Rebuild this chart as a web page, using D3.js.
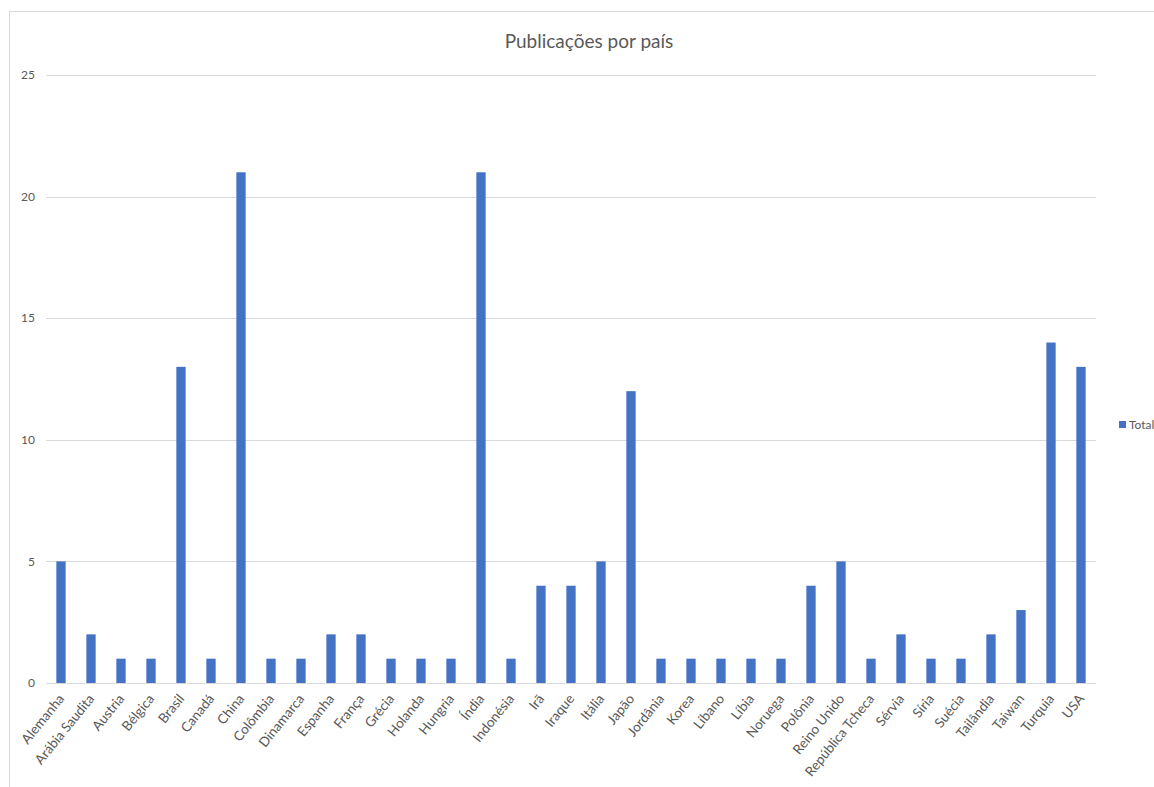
<!DOCTYPE html>
<html><head><meta charset="utf-8">
<script src="https://cdn.jsdelivr.net/npm/d3@7"></script>
<style>body{margin:0;background:#fff;}svg{display:block;}</style>
</head><body>
<script>
const title = "Publicações por país";
const seriesName = "Total";
const categories = ["Alemanha","Arábia Saudita","Austria","Bélgica","Brasil","Canadá","China","Colômbia","Dinamarca","Espanha","França","Grécia","Holanda","Hungria","Índia","Indonésia","Irã","Iraque","Itália","Japão","Jordânia","Korea","Líbano","Líbia","Noruega","Polônia","Reino Unido","República Tcheca","Sérvia","Síria","Suécia","Tailândia","Taiwan","Turquia","USA"];
const values = [5,2,1,1,13,1,21,1,1,2,2,1,1,1,21,1,4,4,5,12,1,1,1,1,1,4,5,1,2,1,1,2,3,14,13];
const yTicks = [0,5,10,15,20,25];

(function () {
const W = 1154, H = 787;
const font = "Lato, 'Open Sans', sans-serif";
const textColor = "#595959";
const svg = d3.select("body").append("svg").attr("width", W).attr("height", H);

// chart area border
svg.append("rect").attr("x", 9.5).attr("y", 11.5).attr("width", 1200).attr("height", 900)
  .attr("fill", "none").attr("stroke", "#d9d9d9").attr("stroke-width", 1);

const pLeft = 46, pRight = 1096, pTop = 75, pBottom = 683;
const x = d3.scaleBand().domain(categories).range([pLeft, pRight]).paddingInner(0.69).paddingOuter(0.345);
const y = d3.scaleLinear().domain([0, 25]).range([pBottom, pTop]);

// gridlines
svg.append("g").selectAll("line").data(yTicks).join("line")
  .attr("x1", pLeft).attr("x2", pRight)
  .attr("y1", d => Math.round(y(d)) + 0.5).attr("y2", d => Math.round(y(d)) + 0.5)
  .attr("stroke", "#d9d9d9").attr("stroke-width", 1);

// y labels
svg.append("g").selectAll("text").data(yTicks).join("text")
  .attr("x", 35).attr("y", d => y(d)).attr("dy", "0.35em")
  .attr("text-anchor", "end").attr("fill", textColor)
  .style("font-family", font).style("font-size", "12px").text(d => d);

// bars
svg.append("g").selectAll("rect").data(values).join("rect")
  .attr("x", (d, i) => x(categories[i]))
  .attr("width", x.bandwidth())
  .attr("y", d => y(d))
  .attr("height", d => y(0) - y(d))
  .attr("fill", "#4472C4");

// x labels
svg.append("g").selectAll("text").data(categories).join("text")
  .attr("transform", d => `translate(${x(d) + x.bandwidth()/2 + 4},${pBottom + 16}) rotate(-51)`)
  .attr("text-anchor", "end").attr("fill", textColor)
  .style("font-family", font).style("font-size", "13.5px").text(d => d);

// title
svg.append("text").attr("x", 589).attr("y", 48).attr("text-anchor", "middle")
  .attr("fill", textColor).style("font-family", font).style("font-size", "19px").text(title);

// legend
svg.append("rect").attr("x", 1119).attr("y", 421).attr("width", 7).attr("height", 7).attr("fill", "#4472C4");
svg.append("text").attr("x", 1129).attr("y", 425).attr("dy", "0.35em").attr("fill", textColor)
  .style("font-family", font).style("font-size", "12px").text(seriesName);
})();
</script>
</body></html>
